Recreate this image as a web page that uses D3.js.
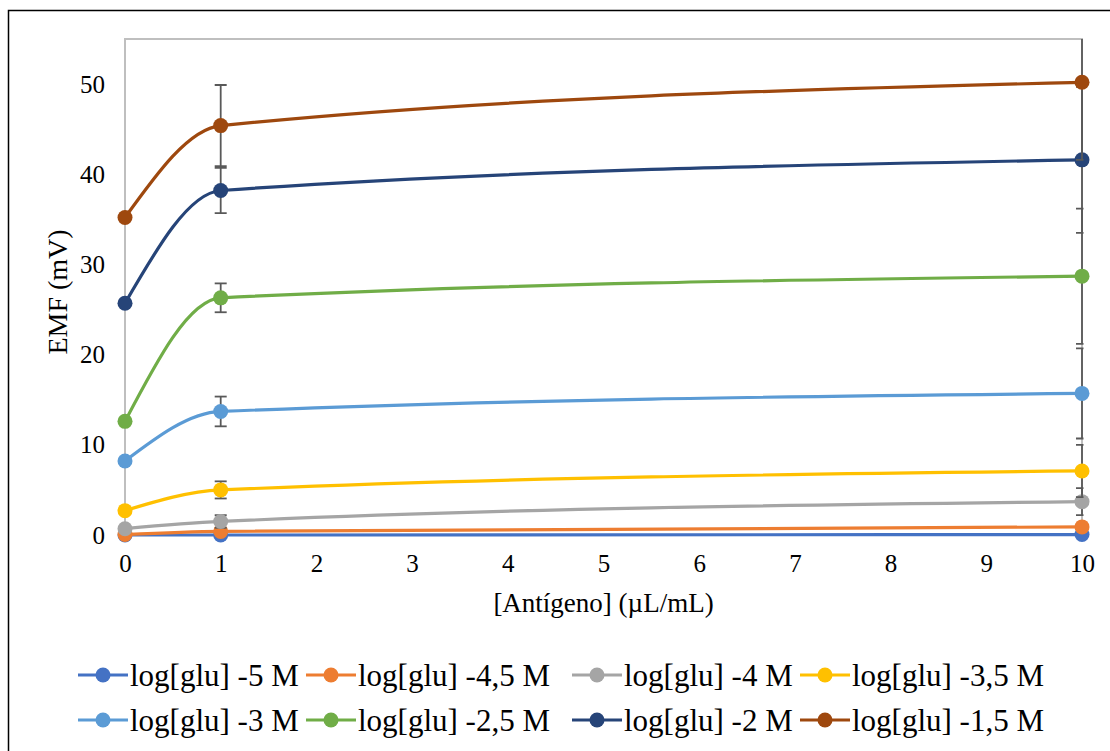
<!doctype html>
<html lang="es">
<head>
<meta charset="utf-8">
<title>EMF vs Antígeno</title>
<script src="https://cdn.jsdelivr.net/npm/d3@7"></script>
<style>
  body { margin: 0; background: #fff; }
  text { font-family: "Liberation Serif", "Times New Roman", serif; fill: #000; }
</style>
</head>
<body>
<svg id="chart" width="1110" height="751"></svg>
<script>
  //
  // Data
  //
  var xValues = [0, 1, 10]
  var seriesNames = ['log[glu] -5 M', 'log[glu] -4,5 M', 'log[glu] -4 M', 'log[glu] -3,5 M',
    'log[glu] -3 M', 'log[glu] -2,5 M', 'log[glu] -2 M', 'log[glu] -1,5 M']
  var seriesColors = ['#4472C4', '#ED7D31', '#A5A5A5', '#FFC000',
    '#5B9BD5', '#70AD47', '#264478', '#9E480E']
  // EMF (mV) at x = 0, 1, 10
  var emf5 = [0.0, 0.0, 0.05]
  var emf45 = [0.05, 0.4, 0.9]
  var emf4 = [0.7, 1.5, 3.7]
  var emf35 = [2.7, 5.0, 7.1]
  var emf3 = [8.2, 13.7, 15.7]
  var emf25 = [12.6, 26.3, 28.7]
  var emf2 = [25.7, 38.2, 41.6]
  var emf15 = [35.2, 45.4, 50.2]
  // error bars (+/-) at x = 0, 1, 10
  var err5 = [0, 0.1, 0.1]
  var err45 = [0, 0.2, 0.3]
  var err4 = [0, 0.7, 1.5]
  var err35 = [0, 0.95, 2.9]
  var err3 = [0, 1.65, 5.0]
  var err25 = [0, 1.6, 7.5]
  var err2 = [0, 2.5, 8.1]
  var err15 = [0, 4.5, 8.6]
  var yTicks = [0, 10, 20, 30, 40, 50]
  var xTicks = [0, 1, 2, 3, 4, 5, 6, 7, 8, 9, 10]

  var allValues = [emf5, emf45, emf4, emf35, emf3, emf25, emf2, emf15]
  var allErrors = [err5, err45, err4, err35, err3, err25, err2, err15]

  //
  // Layout
  //
  var svg = d3.select('#chart')
  var plot = { left: 125, right: 1082, top: 39, bottom: 535 }

  var x = d3.scaleLinear().domain([0, 10]).range([plot.left, plot.right])
  var y = d3.scaleLinear().domain([0, 55]).range([plot.bottom, plot.top])

  // outer chart border
  svg.append('rect')
    .attr('x', 8.5).attr('y', 10.5)
    .attr('width', 1200).attr('height', 800)
    .attr('fill', 'none').attr('stroke', '#000').attr('stroke-width', 1.5)

  // error bars are cut at the plot area edge
  svg.append('defs').append('clipPath').attr('id', 'clip')
    .append('rect')
    .attr('x', plot.left - 10).attr('y', plot.top)
    .attr('width', plot.right - plot.left + 11.5).attr('height', plot.bottom - plot.top + 10)

  // plot area frame
  svg.append('rect')
    .attr('x', plot.left).attr('y', plot.top)
    .attr('width', plot.right - plot.left).attr('height', plot.bottom - plot.top)
    .attr('fill', 'none').attr('stroke', '#BFBFBF').attr('stroke-width', 2)

  // axes (labels only, Excel style)
  svg.append('g')
    .attr('transform', 'translate(' + plot.left + ',0)')
    .call(d3.axisLeft(y).tickValues(yTicks).tickSize(0).tickPadding(20))
  svg.append('g')
    .attr('transform', 'translate(0,' + plot.bottom + ')')
    .call(d3.axisBottom(x).tickValues(xTicks).tickSize(0).tickPadding(19))
  svg.selectAll('.domain').remove()
  svg.selectAll('.tick text')
    .style('font-family', '"Liberation Serif", serif')
    .style('font-size', '25px')
    .attr('fill', '#000')

  svg.append('text')
    .attr('x', (plot.left + plot.right) / 2 + 0).attr('y', 612)
    .attr('text-anchor', 'middle')
    .style('font-size', '27px')
    .text('[Antígeno] (µL/mL)')

  svg.append('text')
    .attr('transform', 'translate(67,' + 292 + ') rotate(-90)')
    .attr('text-anchor', 'middle')
    .style('font-size', '28px')
    .text('EMF (mV)')

  //
  // Series
  //
  var line = d3.line()
    .x(function (d) { return x(d[0]) })
    .y(function (d) { return y(d[1]) })
    .curve(d3.curveMonotoneX)

  var marks = svg.append('g')

  allValues.forEach(function (vals, i) {
    var pts = xValues.map(function (xv, j) { return [xv, vals[j]] })
    var g = marks.append('g')
    g.append('path')
      .datum(pts)
      .attr('d', line)
      .attr('fill', 'none')
      .attr('stroke', seriesColors[i])
      .attr('stroke-width', 3.2)

    var errs = allErrors[i]
    var eb = g.append('g').attr('clip-path', 'url(#clip)')
      .selectAll('.err')
      .data(pts.map(function (p, j) { return [p[0], p[1], errs[j]] }).filter(function (d) { return d[2] > 0 }))
      .enter().append('g')
    eb.append('line')
      .attr('x1', function (d) { return x(d[0]) }).attr('x2', function (d) { return x(d[0]) })
      .attr('y1', function (d) { return y(d[1] - d[2]) }).attr('y2', function (d) { return y(d[1] + d[2]) })
      .attr('stroke', '#595959').attr('stroke-width', 1.8)
    ;[-1, 1].forEach(function (s) {
      eb.append('line')
        .attr('x1', function (d) { return x(d[0]) - 6 }).attr('x2', function (d) { return x(d[0]) + 6 })
        .attr('y1', function (d) { return y(d[1] + s * d[2]) }).attr('y2', function (d) { return y(d[1] + s * d[2]) })
        .attr('stroke', '#595959').attr('stroke-width', 1.8)
    })

    g.selectAll('circle')
      .data(pts)
      .enter().append('circle')
      .attr('cx', function (d) { return x(d[0]) })
      .attr('cy', function (d) { return y(d[1]) })
      .attr('r', 7.5)
      .attr('fill', seriesColors[i])
  })

  //
  // Legend
  //
  var legendX = [78, 306, 572, 800]
  var legendY = [675, 720]
  var legend = svg.append('g')
  seriesNames.forEach(function (name, i) {
    var lx = legendX[i % 4]
    var ly = legendY[Math.floor(i / 4)]
    legend.append('line')
      .attr('x1', lx).attr('x2', lx + 50)
      .attr('y1', ly).attr('y2', ly)
      .attr('stroke', seriesColors[i]).attr('stroke-width', 3.2)
    legend.append('circle')
      .attr('cx', lx + 25).attr('cy', ly).attr('r', 7.5)
      .attr('fill', seriesColors[i])
    legend.append('text')
      .attr('x', lx + 52).attr('y', ly)
      .attr('dy', '0.35em')
      .style('font-size', '31px')
      .text(name)
  })
</script>
</body>
</html>
